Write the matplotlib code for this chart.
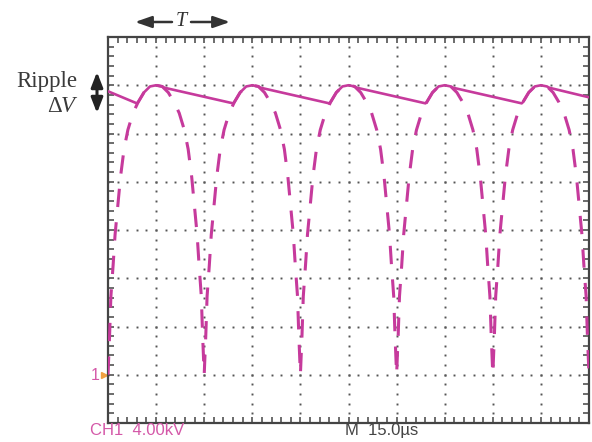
import numpy as np
import matplotlib
matplotlib.use("Agg")
from matplotlib import pyplot as plt
from matplotlib.ticker import MultipleLocator

# time in microseconds, voltage in kV (CH1 4.00 kV/div, M 15.0 us/div)
# one rising half of a rectified hump (time from the zero)
rise_t = [0, 0.5, 0.9, 1.6, 2.2, 3.0, 3.9, 5.0, 6.2, 7.8, 9.4, 11.2, 13.1, 15.0]
rise_v = [0, 3.3, 6.5, 9.1, 11.6, 13.9, 16.4, 18.7, 20.3, 21.7, 22.6, 23.4, 23.9, 24.0]
zero_t = [0, 30, 60, 90, 120]          # start of each rectified hump

# filtered output: troughs (charging starts) and decay starts
trough_t = [9, 39, 69, 99, 129]
trough_v = [22.5, 22.5, 22.5, 22.5, 22.5]
decay_t = [17.5, 47.5, 77.5, 107.5, 137.5]
decay_v = [23.8, 23.8, 23.8, 23.8, 23.8]
start_v = 23.5
end_v = 23.0

MAG = "#c63a9c"

fig = plt.figure(figsize=(5.92, 4.42), dpi=100)
ax = fig.add_axes([108 / 592, 1 - 423 / 442, 481 / 592, 386 / 442])
ax.set_xlim(0, 150)
ax.set_ylim(-4, 28)

# one full hump from the rising half
hump_t = np.array(rise_t + [30 - t for t in rise_t[::-1][1:]])
hump_v = np.array(rise_v + rise_v[::-1][1:])

# dashed rectified wave
dash_t = np.concatenate([z + hump_t[:-1] for z in zero_t] + [[150]])
dash_v = np.concatenate([hump_v[:-1] for z in zero_t] + [[0]])
ln, = ax.plot(dash_t, dash_v, color=MAG, lw=2.2, solid_capstyle="butt", zorder=3)
ln.set_dashes((6.0, 5.0))

# solid filtered output
st, sv = [0], [start_v]
for z, tt, tv, dt, dv in zip(zero_t, trough_t, trough_v, decay_t, decay_v):
    st.append(tt)
    sv.append(tv)
    ht = z + hump_t
    m = (ht > tt) & (ht < dt)
    st.extend(ht[m])
    sv.extend(hump_v[m])
    st.append(dt)
    sv.append(dv)
st.append(150)
sv.append(end_v)
ax.plot(st, sv, color=MAG, lw=1.9, zorder=4, solid_joinstyle="round")

# dotted graticule
xs = np.arange(0, 150.01, 3)
ys = np.arange(-4, 28.01, 0.8)
for yg in np.arange(0, 28, 4):
    ax.plot(xs, np.full_like(xs, yg), ls="none", marker="s", ms=1.4, color="#555555", mew=0, zorder=1)
for xg in np.arange(15, 150, 15):
    ax.plot(np.full_like(ys, xg), ys, ls="none", marker="s", ms=1.4, color="#555555", mew=0, zorder=1)

ax.xaxis.set_major_locator(MultipleLocator(15))
ax.xaxis.set_minor_locator(MultipleLocator(3))
ax.yaxis.set_major_locator(MultipleLocator(4))
ax.yaxis.set_minor_locator(MultipleLocator(0.8))
ax.tick_params(which="both", direction="in", top=True, right=True, labelbottom=False,
               labelleft=False, length=4, width=1.1, color="#444444")
for s in ax.spines.values():
    s.set_linewidth(1.6)
    s.set_color("#444444")

# ground marker
ax.plot([-1.2], [0], marker=">", ms=4.5, color="#f0a040", clip_on=False)
fig.text(91 / 592, 67 / 442, "1", color="#d458a8", fontsize=11.5, family="Liberation Sans",
         va="center", ha="left")

# bottom readouts
fig.text(90 / 592, 4 / 442, "CH1  4.00kV", color="#d458a8", fontsize=12, family="Liberation Sans",
         va="bottom")
fig.text(345 / 592, 4 / 442, "M  15.0\u00b5s", color="#444444", fontsize=12, family="Liberation Sans",
         va="bottom")

# ripple annotation
fig.text(77 / 592, 355 / 442, "Ripple", fontsize=16.5, family="Liberation Serif", color="#3a3a3a",
         ha="right", va="baseline")
fig.text(62 / 592, 330 / 442, "\u0394", fontsize=16.5, family="Liberation Serif", color="#3a3a3a",
         ha="right", va="baseline")
fig.text(61 / 592, 330 / 442, "V", fontsize=16.5, family="Liberation Serif", style="italic",
         color="#3a3a3a", ha="left", va="baseline")
ax.annotate("", xy=(97, 442 - 72), xytext=(97, 442 - 113), xycoords="figure pixels",
            textcoords="figure pixels",
            arrowprops=dict(arrowstyle="<|-|>,head_length=0.9,head_width=0.35", color="#222222", lw=2.2,
                            shrinkA=0, shrinkB=0))

# period annotation
ax.annotate("", xy=(135, 420), xytext=(172, 420), xycoords="figure pixels", textcoords="figure pixels",
            arrowprops=dict(arrowstyle="-|>,head_length=1.0,head_width=0.35", color="#333333", lw=1.8,
                            shrinkA=0, shrinkB=0))
ax.annotate("", xy=(230, 420), xytext=(191, 420), xycoords="figure pixels", textcoords="figure pixels",
            arrowprops=dict(arrowstyle="-|>,head_length=1.0,head_width=0.35", color="#333333", lw=1.8,
                            shrinkA=0, shrinkB=0))
fig.text(181 / 592, 420 / 442, "T", fontsize=14.5, family="Liberation Serif", style="italic",
         color="#333333", ha="center", va="center")

fig.savefig("out.png", dpi=100)
